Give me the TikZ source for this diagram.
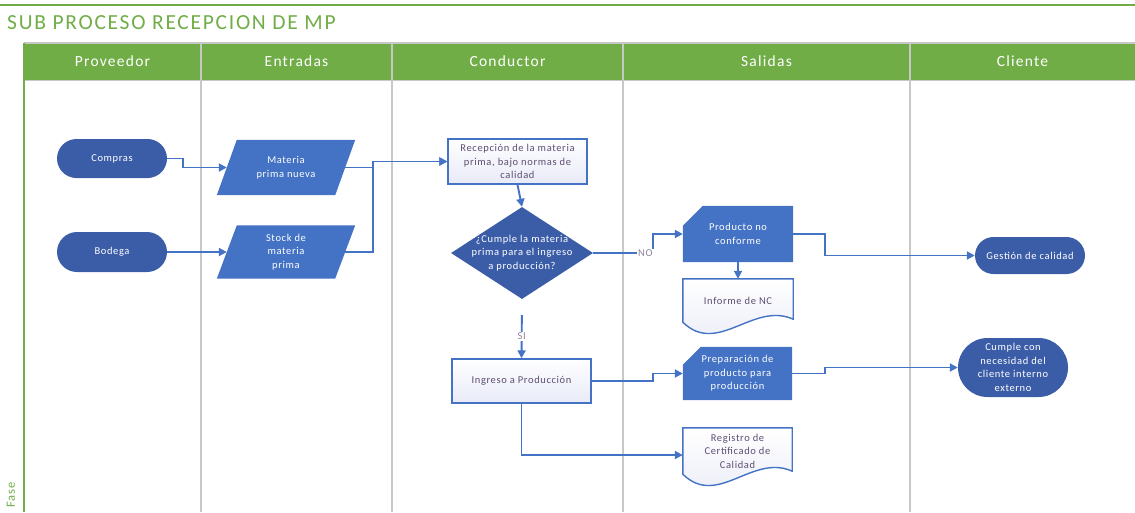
\documentclass[tikz,border=0pt]{standalone}
\usepackage{fontspec}
\setmainfont{Carlito}
\newfontfamily\lsfont[LetterSpace=6]{Carlito}
\newfontfamily\headfont[LetterSpace=8]{Carlito}
\usetikzlibrary{shapes.geometric,shapes.misc,arrows.meta}
\pgfdeclarelayer{background}
\pgfsetlayers{background,main}

\definecolor{lanegreen}{HTML}{70AD47}
\definecolor{lanegray}{HTML}{C8C8C8}
\definecolor{darkblue}{HTML}{3B5DA8}
\definecolor{midblue}{HTML}{4472C4}
\definecolor{paleblue}{HTML}{E8EAF7}
\definecolor{inktext}{HTML}{5E4E72}

\tikzset{
  every node/.style={font=\lsfont\fontsize{10.5}{13.5}\selectfont, align=center, inner sep=0pt},
  lanehead/.style={text=white, font=\headfont\fontsize{15.5}{17}\selectfont},
  terminal/.style={rounded rectangle, fill=darkblue, text=white, minimum width=110pt},
  decision/.style={diamond, aspect=1.55, fill=darkblue, text=white, inner sep=-8pt,
    minimum width=142pt, minimum height=92pt},
  process/.style={rectangle, draw=midblue, line width=1.4pt, top color=white,
    bottom color=paleblue, text=inktext},
  datashape/.style={rectangle, text=white, minimum width=138pt},
  cardshape/.style={rectangle, text=white},
  docnode/.style={rectangle, text=inktext},
  docline/.style={draw=midblue, line width=1.4pt, top color=white, bottom color=paleblue},
  conn/.style={draw=midblue, line width=1.9pt, -{Triangle[length=8pt,width=8pt]}},
  lbl/.style={fill=white, text=inktext!70, font=\lsfont\fontsize{10.5}{11}\selectfont, inner sep=1pt},
  lanerule/.style={draw=lanegray, line width=1.6pt}
}

\begin{document}
\begin{tikzpicture}[x=1pt,y=-1pt]
\useasboundingbox (0,0) rectangle (1135,512);

% title and top rule
\draw[lanegreen, line width=2.5pt] (0,5) -- (1135,5);
\node[anchor=west, text=lanegreen, font=\headfont\fontsize{21.5}{23}\selectfont] (title) at (7,23) {SUB PROCESO RECEPCION DE MP};

% lane headers
\node[lanehead] (hprov) at (112.5,61.5) {Proveedor};
\node[lanehead] (hent) at (296.5,61.5) {Entradas};
\node[lanehead] (hcond) at (507.5,61.5) {Conductor};
\node[lanehead] (hsal) at (766.5,61.5) {Salidas};
\node[lanehead] (hcli) at (1022.5,61.5) {Cliente};
\node[rotate=90, text=lanegreen, font=\lsfont\fontsize{12.5}{13}\selectfont] (fase) at (11,495) {Fase};

% flow nodes
\node[terminal, minimum height=39pt] (comp) at (112,158.5) {Compras};
\node[terminal, minimum height=40pt] (bod) at (112,252) {Bodega};
\node[datashape, minimum height=55pt] (mpn) at (286,167.5) {Materia\\prima nueva};
\node[datashape, minimum height=53pt] (stk) at (286,252) {Stock de\\materia\\prima};
\node[process, minimum width=139pt, minimum height=45pt] (rec) at (517.5,161.5)
  {Recepción de la materia\\prima, bajo normas de\\calidad};
\node[decision] (q) at (522,253) {¿Cumple la materia\\prima para el ingreso\\a producción?};
\node[cardshape, minimum width=110pt, minimum height=56pt] (pnc) at (738,234) {Producto no\\conforme};
\node[docnode, minimum width=110pt, minimum height=43pt] (inf) at (738,300.5) {Informe de NC};
\node[terminal, minimum height=37pt] (gc) at (1030,255.5) {Gestión de calidad};
\node[process, minimum width=139pt, minimum height=44pt] (ing) at (521.5,381) {Ingreso a Producción};
\node[cardshape, minimum width=109pt, minimum height=53pt] (prep) at (737.5,373.5)
  {Preparación de\\producto para\\producción};
\node[terminal, minimum height=59pt] (cum) at (1013,367.5)
  {Cumple con\\necesidad del\\cliente interno\\externo};
\node[docnode, minimum width=109pt, minimum height=46pt] (reg) at (737.5,451)
  {Registro de\\Certificado de\\Calidad};

\begin{pgfonlayer}{background}
  % swimlane frame
  \fill[lanegreen] (24,44) rectangle (1135,80);
  \draw[lanerule] (24,43) -- (1135,43);
  \draw[lanerule] (24,80.5) -- (1135,80.5);
  \foreach \lx in {201,392,623,910}
    \draw[lanerule] (\lx,43) -- (\lx,512);
  \draw[lanegreen, line width=1.6pt] (24,43) -- (24,512);
  % data shapes
  \fill[midblue] ([xshift=20pt]mpn.north west) -- (mpn.north east)
    -- ([xshift=-20pt]mpn.south east) -- (mpn.south west) -- cycle;
  \fill[midblue] ([xshift=20pt]stk.north west) -- (stk.north east)
    -- ([xshift=-20pt]stk.south east) -- (stk.south west) -- cycle;
  % cards with a cut corner
  \fill[midblue] ([yshift=-20pt]pnc.north west) -- ([xshift=20pt]pnc.north west)
    -- (pnc.north east) -- (pnc.south east) -- (pnc.south west) -- cycle;
  \fill[midblue] ([yshift=-18pt]prep.north west) -- ([xshift=18pt]prep.north west)
    -- (prep.north east) -- (prep.south east) -- (prep.south west) -- cycle;
  % documents with a wavy lower edge
  \path[docline] (inf.north west) -- (inf.south west)
    .. controls +(35,34) and +(-40,-18) .. ([yshift=3pt]inf.south east)
    -- (inf.north east) -- cycle;
  \path[docline] (reg.north west) -- (reg.south west)
    .. controls +(35,34) and +(-40,-18) .. ([yshift=3pt]reg.south east)
    -- (reg.north east) -- cycle;
\end{pgfonlayer}

% connectors
\draw[conn] (comp.east) -- ++(16,0) |- ([xshift=10pt]mpn.west);
\draw[conn] (bod.east) -- ([xshift=10pt]stk.west);
\draw[conn] ([xshift=-10pt]mpn.east) -- ++(28,0) |- (rec.west);
\draw[conn] ([xshift=-10pt]stk.east) -- ++(28,0) |- (rec.west);
\draw[conn] (rec.south) -- (q.north);
\draw[conn] (q.east) -- node[lbl, pos=0.87] {NO} ++(60,0) |- (pnc.west);
\draw[conn] (pnc.south) -- (inf.north);
\draw[conn] (pnc.east) -- ++(32,0) |- (gc.west);
\draw[conn, shorten <=16pt] (q.south) -- node[lbl, pos=0.63] {SI} (ing.north);
\draw[conn] (ing.east) -- ++(61,0) |- (prep.west);
\draw[conn] (prep.east) -- ++(33,0) |- (cum.west);
\draw[conn] (ing.south) |- ([yshift=-4pt]reg.west);
\end{tikzpicture}
\end{document}
